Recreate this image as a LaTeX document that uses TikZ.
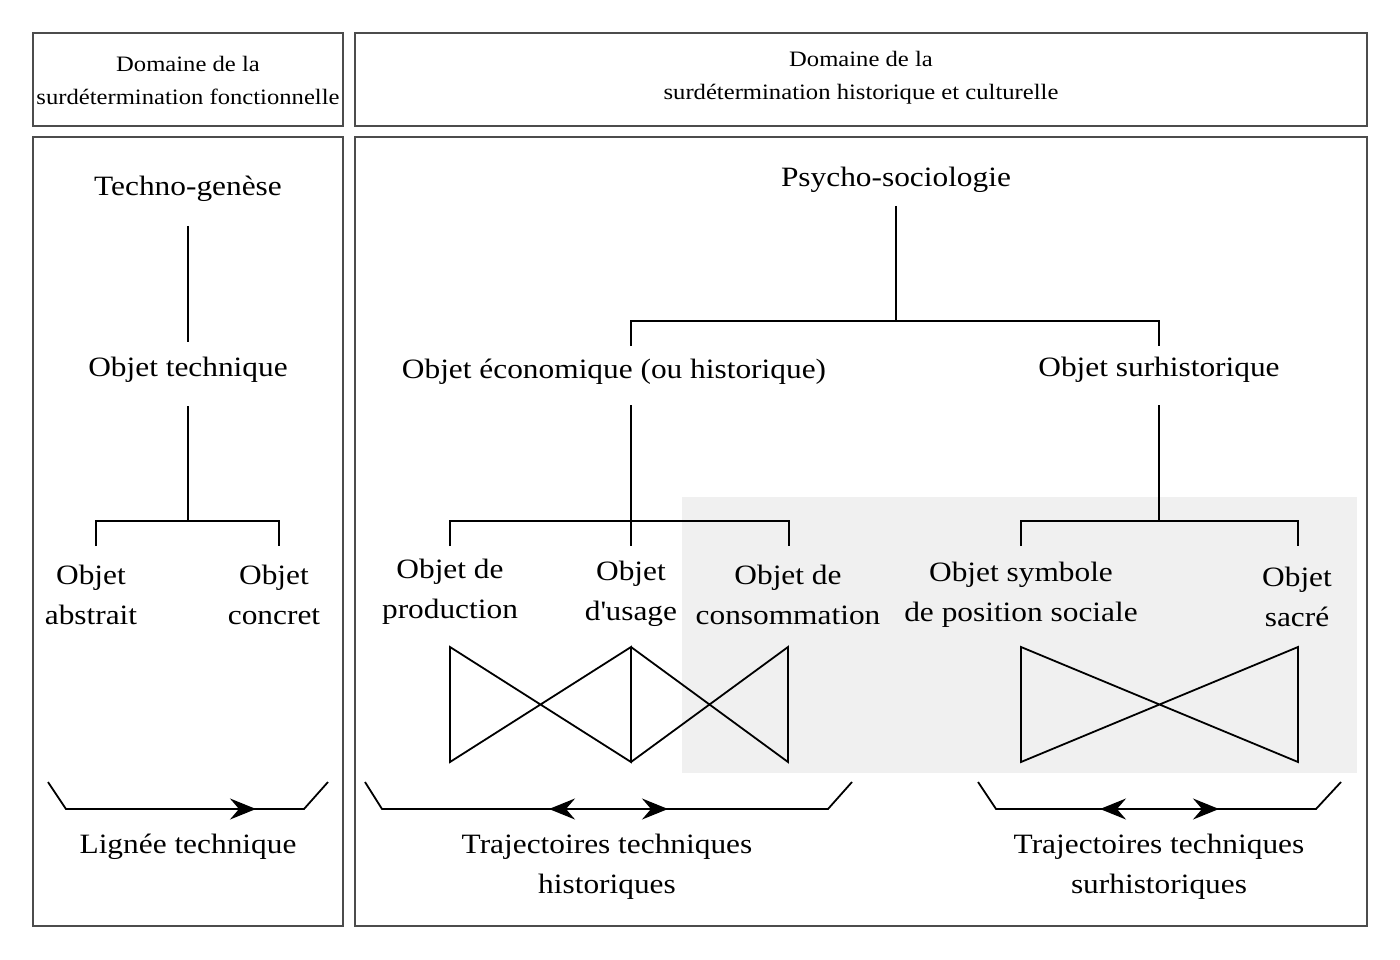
\documentclass[tikz,border=0pt]{standalone}
\usepackage{fontspec}
\setmainfont{Liberation Serif}[FakeStretch=1.12]
\usetikzlibrary{arrows.meta}
\begin{document}
\begin{tikzpicture}[x=1pt,y=-1pt,
  frame/.style={draw=black!70,line width=1.1pt},
  link/.style={line width=1.8pt},
  lbl/.style={font=\fontsize{28}{40}\selectfont,align=center,inner sep=0pt},
  head/.style={font=\fontsize{22}{33}\selectfont,align=center,inner sep=0pt},
  tip/.style={-{Stealth[length=26pt,width=21pt,inset=9pt]}},
  dtip/.style={{Stealth[length=26pt,width=21pt,inset=9pt]}-{Stealth[length=26pt,width=21pt,inset=9pt]}}]
\useasboundingbox (0,0) rectangle (1400,960);
\fill[white] (0,0) rectangle (1400,960);
% grey zone
\fill[black!6] (682,497) rectangle (1357,773);
% frames
\draw[frame] (33,33) rectangle (343,126);
\draw[frame] (355,33) rectangle (1367,126);
\draw[frame] (33,137) rectangle (343,926);
\draw[frame] (355,137) rectangle (1367,926);
% headers
\node[head] (h1) at (188,80) {Domaine de la\\surdétermination fonctionnelle};
\node[head] (h2) at (861,78) {Domaine de la\\surdétermination historique et culturelle};
% left column
\node[lbl] (tg) at (188,189) {Techno-genèse};
\node[lbl] (ot) at (188,370) {Objet technique};
\node[lbl] (oa) at (91,595) {Objet\\abstrait};
\node[lbl] (oc) at (274,595) {Objet\\concret};
\draw[link] (188,226) -- (188,342);
\draw[link] (188,406) -- (188,521);
\draw[link] (96,546) -- (96,521) -- (279,521) -- (279,546);
\coordinate (la) at (48,782);
\coordinate (lb) at (66,809);
\coordinate (lc) at (304,809);
\coordinate (ld) at (328,782);
\draw[link] (la) -- (lb) -- (lc) -- (ld);
\coordinate (lt1) at (226,809);
\coordinate (lt2) at (256,809);
\draw[link,tip] (lt1) -- (lt2);
\node[lbl] (lt) at (188,847) {Lignée technique};
% right column
\node[lbl] (ps) at (896,180) {Psycho-sociologie};
\node[lbl] (oe) at (614,372) {Objet économique (ou historique)};
\node[lbl] (os) at (1159,370) {Objet surhistorique};
\draw[link] (896,206) -- (896,321);
\draw[link] (631,346) -- (631,321) -- (1159,321) -- (1159,346);
\draw[link] (631,405) -- (631,546);
\draw[link] (450,546) -- (450,521) -- (789,521) -- (789,546);
\draw[link] (1159,405) -- (1159,521);
\draw[link] (1021,546) -- (1021,521) -- (1298,521) -- (1298,546);
\node[lbl] (op) at (450,592) {Objet de\\production};
\node[lbl] (ou) at (631,594) {Objet\\d\textquotesingle usage};
\node[lbl] (oco) at (788,595) {Objet de\\consommation};
\node[lbl] (osp) at (1021,595) {Objet symbole\\de position sociale};
\node[lbl] (osa) at (1297,597) {Objet\\sacré};
% bowties
\coordinate (b1t) at (450,647); \coordinate (b1b) at (450,762);
\coordinate (b2t) at (631,647); \coordinate (b2b) at (631,762);
\coordinate (b3t) at (788,647); \coordinate (b3b) at (788,762);
\coordinate (b4t) at (1021,647); \coordinate (b4b) at (1021,762);
\coordinate (b5t) at (1298,647); \coordinate (b5b) at (1298,762);
\draw[link,line join=miter] (b1t) -- (b1b) -- (b2t) -- (b2b) -- cycle;
\draw[link] (b2t) -- (b3b) -- (b3t) -- (b2b);
\draw[link] (b4t) -- (b4b) -- (b5t) -- (b5b) -- cycle;
% brackets
\coordinate (ma) at (365,782); \coordinate (mb) at (382,809);
\coordinate (mc) at (828,809); \coordinate (md) at (852,782);
\draw[link] (ma) -- (mb) -- (mc) -- (md);
\coordinate (mt1) at (549,809); \coordinate (mt2) at (668,809);
\draw[link,dtip] (mt1) -- (mt2);
\coordinate (ra) at (978,782); \coordinate (rb) at (996,809);
\coordinate (rc) at (1316,809); \coordinate (rd) at (1341,782);
\draw[link] (ra) -- (rb) -- (rc) -- (rd);
\coordinate (rt1) at (1100,809); \coordinate (rt2) at (1219,809);
\draw[link,dtip] (rt1) -- (rt2);
\node[lbl] (th) at (607,867) {Trajectoires techniques\\historiques};
\node[lbl] (ts) at (1159,867) {Trajectoires techniques\\surhistoriques};
\end{tikzpicture}
\end{document}
